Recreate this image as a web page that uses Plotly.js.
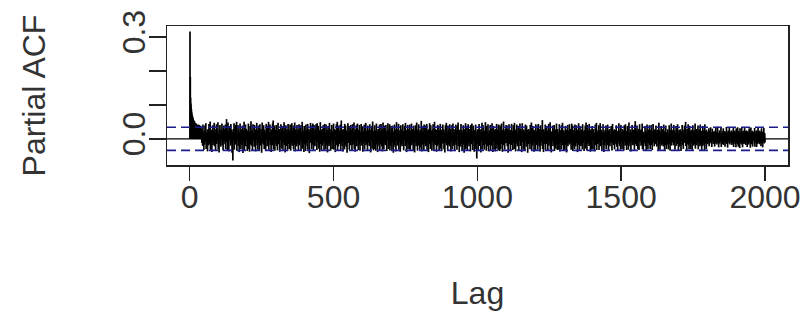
<!DOCTYPE html>
<html>
<head>
<meta charset="utf-8">
<script src="https://cdn.plot.ly/plotly-3.0.1.min.js"></script>
<style>html,body{margin:0;padding:0;background:#fff;}#chart{width:804px;height:328px;}</style>
</head>
<body>
<div id="chart"></div>
<script>
// Partial autocorrelation values for lags 1..2000
const pacfValues = [
.316,.182,.121,.104,.093,.087,.078,.071,.069,.064,.061,.058,.052,.055,.049,.047,.051,.044,.046,.041,
.043,.038,.045,.036,.040,.034,.039,.031,.042,.028,.037,.033,.025,.041,.029,.035,.022,.038,.027,.031,
.019,-.012,.027,.008,-.021,.042,-.006,.015,-.033,.022,.004,-.017,.039,-.009,.012,.046,-.030,.006,.017,-.013,
.025,-.037,.011,.029,-.004,-.019,.044,.002,-.014,.021,.051,-.032,.009,.016,-.008,.027,-.039,.013,.005,.040,
-.018,.024,.007,-.011,.047,-.022,.014,.028,-.005,-.035,.018,.003,.043,-.015,.022,-.007,.011,.049,-.031,.009,
.016,-.040,.026,.001,.041,-.013,.008,-.023,.029,.012,-.002,.045,-.019,.005,.024,-.034,.015,.039,-.010,.020,
.006,.028,-.016,.042,-.030,.011,.019,.058,-.009,.003,-.033,.025,.048,-.012,.014,-.037,.022,.008,.038,-.004,
.017,-.020,.044,.010,-.014,.027,-.041,.004,.021,-.064,.013,.029,-.008,.046,-.032,.009,.018,-.017,.041,.002,
-.011,.023,.050,-.035,.007,.015,-.006,.040,-.021,.026,.001,-.039,.019,.012,.045,-.015,.005,-.030,.028,.014,
.009,-.018,.039,.020,-.042,.003,.025,-.010,.050,-.033,.016,.007,-.013,.042,-.022,.011,.029,-.005,.018,-.036,
.024,.002,-.031,.045,.013,-.009,.021,-.038,.006,.038,-.016,.019,.052,-.020,.008,-.004,.026,-.034,.015,.043,
-.007,.017,.010,-.023,.041,-.014,.004,.028,-.037,.022,.012,-.003,.047,-.019,.026,.007,-.032,.016,.039,-.011,
.014,-.035,.022,.043,-.008,.005,-.020,.029,.011,-.041,.018,.048,-.013,.003,.024,-.017,.040,.009,-.030,.020,
.027,-.010,.006,-.036,.019,.044,-.002,.013,-.022,.038,.001,-.015,.025,.050,-.033,.010,.017,-.006,.042,-.018,
.008,.021,-.039,.015,.028,-.012,.004,.045,-.019,.054,-.031,.011,.023,-.007,.039,-.035,.016,.002,.026,-.014,
.041,-.021,.012,.006,-.034,.024,.047,-.009,.017,-.016,.029,.003,-.038,.020,.010,-.004,.043,-.029,.014,.027,
-.013,.018,.038,-.032,.007,.022,-.011,.049,-.018,.009,.025,-.040,.015,.040,-.005,.012,-.021,.028,.004,-.036,
.019,.044,-.015,.002,.027,-.030,.013,-.008,.042,.021,-.035,.006,.017,-.012,.046,-.020,.010,.024,-.003,.039,
-.031,.011,.023,-.017,.048,.005,-.037,.018,.028,-.010,.014,-.022,.041,.001,-.014,.026,.009,-.033,.021,.043,
.003,-.019,.029,.016,-.006,.040,-.034,.012,.020,-.013,.050,-.029,.007,.025,-.009,.015,-.039,.038,.011,-.016,
.022,.008,-.036,.042,-.011,.019,.027,-.020,.004,.044,-.032,.013,-.003,.029,.017,-.042,.010,.024,-.012,.047,
-.008,.026,.014,-.030,.039,.002,-.017,.045,.009,-.035,.021,.041,-.014,.006,-.022,.028,.016,-.005,.043,-.019,
.012,-.033,.046,.020,-.010,.007,.038,-.029,.015,-.002,.026,-.038,.018,.049,-.015,.004,.023,-.034,.010,.029,
-.020,.017,.005,.040,-.013,.025,-.036,.011,.044,-.007,.019,.003,-.031,.042,.013,-.018,.027,.008,-.040,.021,
.038,-.011,.024,-.021,.009,.047,-.016,.014,.001,-.035,.028,.018,-.006,.041,-.030,.012,.022,-.013,.005,.045,
-.032,.015,.029,-.004,.020,-.039,.010,.026,-.019,.043,.006,-.012,.050,-.033,.016,.002,-.022,.039,.013,-.009,
.024,-.015,.008,.042,-.034,.019,.054,-.010,.012,-.021,.027,.004,-.037,.017,.029,-.007,.021,-.031,.044,.011,
-.017,.039,.003,-.023,.025,.014,-.041,.022,.009,.046,-.012,.018,-.004,.038,-.032,.011,.024,.006,-.019,.041,
.016,-.009,.027,-.036,.013,.043,-.018,.005,.023,-.014,.048,-.030,.010,.019,-.038,.028,.001,-.011,.040,.020,
-.022,.012,.045,-.006,.018,-.033,.026,.008,-.016,.041,.015,-.035,.021,.004,-.010,.044,-.020,.014,.025,-.003,
.037,-.038,.011,.022,-.013,.006,.042,-.031,.017,.028,-.008,.047,-.019,.002,.024,-.015,.013,-.036,.039,.009,
-.012,.020,.027,-.021,.004,.043,-.017,.011,-.040,.026,.016,-.005,.038,-.029,.019,.051,-.014,.007,-.034,.023,
.013,-.030,.040,.006,-.011,.025,-.035,.018,.045,-.016,.003,.022,-.039,.014,.029,-.008,.020,-.020,.010,.042,
-.033,.009,.019,-.015,.044,.001,-.022,.028,.012,-.037,.024,.048,-.010,.016,-.031,.039,.005,-.013,.026,-.018,
.021,.041,-.019,.008,-.036,.023,.015,-.006,.046,-.030,.011,.027,-.014,.002,.043,-.034,.018,.009,-.021,.038,
-.009,.026,-.033,.017,.039,-.012,.004,-.041,.022,.014,-.018,.042,.007,-.023,.028,.019,-.037,.012,.049,-.005,
.018,-.020,.010,.029,-.014,.044,-.032,.013,.003,-.009,.025,-.038,.021,.040,-.016,.006,.027,-.022,.015,.002,
.043,-.013,.023,-.034,.009,.018,-.004,.038,-.021,.047,.012,-.017,.026,-.039,.014,.005,-.010,.041,-.030,.020,
-.016,.028,.006,-.031,.042,.011,-.036,.019,.024,-.007,.045,-.019,.001,.029,-.012,.022,-.033,.016,.039,-.003,
.010,-.040,.025,.015,-.010,.040,-.022,.007,.048,-.015,.018,-.035,.027,.004,-.020,.043,.013,-.008,.021,-.032,
.027,-.011,.017,-.023,.053,.008,-.037,.022,.012,-.017,.038,-.005,.019,-.034,.042,.002,-.014,.025,.009,-.022,
.039,-.018,.006,.044,-.032,.014,.023,-.009,.028,-.039,.011,.020,-.015,.046,-.004,.016,-.030,.040,.003,-.012,
.024,-.035,.013,.027,-.007,.043,-.020,.010,-.033,.021,.050,-.013,.005,.029,-.018,.015,.026,-.038,.018,.008,
-.021,.041,.002,-.016,.038,.019,-.034,.011,.025,-.008,.044,-.029,.013,-.003,.027,-.036,.020,.007,-.014,.042,
.015,-.010,.028,-.031,.017,.004,-.040,.024,.040,-.012,.009,.047,-.019,.022,-.006,.014,-.033,.039,.012,-.017,
.026,.008,-.022,.043,-.015,.020,.029,-.037,.006,.017,-.009,.041,-.030,.011,.045,-.013,.003,-.020,.028,.016,
-.036,.019,.012,-.011,.042,-.018,.025,.001,-.032,.039,.014,-.004,.048,-.021,.009,.023,-.039,.017,.027,-.008,
.013,-.023,.044,.007,-.014,.026,-.035,.018,.010,-.005,.040,-.017,.021,-.041,.028,.004,.015,-.012,.046,-.031,
.020,.011,-.019,.038,-.034,.016,.002,.043,-.013,.024,-.022,.008,.029,-.010,.018,-.037,.041,.006,-.016,.022,
.045,-.014,.009,-.033,.023,.039,-.008,.015,-.038,.019,.026,-.018,.005,.042,-.030,.012,-.011,-.058,.021,.028,
-.015,.027,-.036,.014,.006,.044,-.021,.018,.029,-.011,.003,-.040,.025,.016,-.006,.047,-.031,.010,.022,-.019,
.040,-.009,.019,-.032,.011,.024,-.016,.049,-.004,.013,-.035,.038,.007,-.013,.021,-.022,.043,.015,-.037,.002,
-.018,.025,.012,-.010,.041,-.033,.005,.028,-.020,.017,.046,-.014,.009,-.039,.023,.038,-.007,.016,-.030,.026,
.011,-.037,.029,.019,-.012,.004,.044,-.029,.013,-.017,.027,.002,-.034,.042,.010,-.005,.022,-.036,.039,.014,
-.030,.020,.006,.045,-.015,.026,-.038,.012,.018,-.009,.051,-.019,.024,.001,-.032,.015,.029,-.013,.008,.041,
.017,-.012,.039,-.022,.003,.028,-.041,.021,.009,.043,-.016,.014,-.004,.026,-.035,.019,.011,-.018,.044,-.007,
.023,.005,-.033,.014,.040,-.011,.020,-.030,.047,.008,-.019,.027,-.037,.016,.003,-.014,.042,.021,-.022,.010,
-.013,.038,.018,-.035,.012,.025,-.006,.045,-.021,.004,.029,-.015,.011,-.039,.024,.046,-.010,.006,.019,-.032,
.028,-.017,.010,.022,-.036,.015,.042,-.008,.002,-.023,.039,.013,-.012,.026,-.041,.018,.007,.029,-.016,.021,
-.005,.024,-.031,.041,.009,-.014,.020,.048,-.034,.011,.017,-.020,.038,.001,-.011,.027,-.038,.014,.025,-.009,
.016,-.034,.043,.006,-.018,.023,-.007,.012,.039,-.032,.019,.044,-.013,.008,-.022,.029,.003,-.037,.018,.040,
-.020,.013,.026,-.010,.004,.055,-.030,.017,.009,-.039,.028,-.005,.021,.014,-.016,.042,-.033,.011,.024,-.012,
.038,-.015,.008,.025,-.035,.019,-.002,.044,-.020,.012,.027,-.011,.049,-.031,.006,.018,-.040,.022,.015,-.006,
.009,.039,-.021,.014,.024,-.013,.041,-.036,.005,.020,-.008,.028,-.029,.016,.045,-.017,.010,-.033,.029,.003,
-.032,.018,.011,-.016,.043,.022,-.037,.007,.026,-.012,.015,-.031,.040,.002,-.019,.047,.013,-.009,.021,-.035,
.025,-.007,.017,-.034,.010,.038,-.018,.023,.004,-.040,.027,.012,-.014,.041,-.022,.008,.024,-.011,.016,.043,
-.017,.012,.029,-.009,.021,-.032,.006,.045,-.015,.019,.039,-.036,.014,.003,-.020,.026,.010,-.030,.042,.007,
.020,-.022,.003,.040,-.013,.016,.027,-.039,.011,.024,-.006,.046,-.018,.009,-.034,.021,.038,-.014,.005,-.021,
.014,.028,-.019,.008,-.031,.043,.001,-.012,.022,.017,-.036,.026,.013,-.004,.039,-.029,.015,.048,-.016,.010,
-.035,.019,.041,-.014,.012,-.008,.025,-.021,.044,.005,-.017,.014,-.038,.023,.028,-.010,.007,-.032,.038,.018,
.011,-.030,.021,.029,-.006,.017,-.037,.013,.004,.042,-.019,.024,-.011,.047,-.033,.009,.020,-.015,.003,.026,
-.013,.040,-.033,.016,.023,-.009,.046,-.022,.010,-.016,.027,.006,-.035,.020,.013,-.004,.043,-.018,.022,-.039,
.018,.006,-.020,.027,-.011,.014,.039,-.030,.009,.022,-.015,.003,.042,-.019,.012,-.033,.025,.016,-.008,.029,
-.022,.015,.010,-.013,.038,-.005,.021,-.034,.017,.044,-.012,.007,.024,-.018,.002,.028,-.031,.013,.019,-.009,
.026,-.016,.040,.004,-.023,.019,.011,-.036,.024,-.007,.015,.046,-.014,.008,-.021,.027,.012,-.032,.041,.001,
-.011,.021,-.030,.029,.013,-.017,.006,.025,-.035,.018,.040,-.010,.014,-.020,.043,.003,-.015,.023,-.033,.016,
.009,.038,-.018,.012,-.032,.022,.048,-.013,.005,.017,-.022,.028,.011,-.037,.020,.007,-.009,.041,-.017,.024,
-.019,.014,.027,-.008,.021,-.034,.010,.041,.052,-.015,.004,.024,-.021,.016,.039,-.012,.019,-.031,.008,.029,
.022,-.033,.013,.043,-.010,.018,-.003,.026,-.020,.011,.029,-.016,.045,-.030,.007,.015,-.035,.021,.012,-.006,
.016,-.013,.038,-.021,.008,.024,-.036,.019,.003,.042,-.009,.013,-.031,.027,.017,-.014,.006,.040,-.019,.022,
-.030,.011,.026,-.007,.041,-.018,.015,-.033,.020,.009,.044,-.012,.023,-.003,-.022,.028,.014,-.016,.025,.005,
.039,-.011,.017,-.023,.012,.027,-.006,.021,-.036,.014,.047,-.017,.008,.025,-.032,.019,.002,-.013,.038,-.020,
.013,.024,-.015,.006,.029,-.022,.018,.042,-.009,.011,-.033,.022,.015,-.018,.039,.004,-.030,.020,.010,-.012,
-.017,.028,.009,-.031,.016,.003,.040,-.014,.023,-.035,.012,.026,-.008,.045,-.020,.014,.021,-.011,.005,.027,
.020,-.019,.041,.010,-.012,.025,-.032,.007,.018,-.004,.038,-.021,.013,.024,-.015,.043,-.010,.016,-.034,.011,
.026,.002,-.023,.019,.028,-.016,.012,-.036,.022,.015,-.007,.041,-.019,.009,.027,-.030,.017,.004,-.012,.039,
-.010,.018,.024,.050,-.021,.013,.006,-.033,.029,.011,-.015,.022,.043,-.018,.008,-.031,.020,.038,-.009,.014,
.023,-.030,.011,.027,-.012,.019,-.035,.016,.040,-.006,.021,-.020,.009,.026,-.016,.013,.045,-.029,.017,.004,
-.014,.029,-.019,.012,.022,-.009,.039,-.031,.007,.018,-.013,.028,.003,-.022,.042,.015,-.017,.024,.010,-.033,
.019,.008,-.021,.038,-.011,.016,.025,-.018,.013,-.034,.043,.006,-.014,.023,.011,-.030,.027,-.007,.020,.012,
-.016,.021,.012,-.009,.031,-.022,.007,.023,-.013,.017,.034,-.011,.004,.019,-.024,.014,.030,-.006,.010,-.015,
.022,-.012,.016,.008,-.023,.024,.003,-.014,.032,.011,-.008,.020,-.017,.013,.036,-.010,.006,.018,-.025,.015,
.009,.025,-.014,.018,-.007,.012,.033,-.024,.014,.005,-.016,.022,.010,-.012,.031,-.018,.016,.002,.023,-.009,
-.023,.013,.021,-.011,.017,.035,-.015,.008,.019,-.026,.011,.024,-.006,.015,-.013,.032,.004,-.017,.020,.012,
.016,-.010,.025,.006,-.018,.014,.022,-.013,.009,.033,-.024,.017,.003,-.008,.024,-.015,.019,.011,-.025,.031,
-.012,.020,.007,-.016,.034,.010,-.023,.023,.013,-.007,.018,-.027,.031,.005,-.014,.021,.015,-.010,.032,-.017,
.014,-.025,.019,.024,-.009,.016,-.015,.011,.035,-.012,.022,.006,-.018,.017,.025,-.011,.008,-.024,.013,.023,
-.008,.018,-.017,.012,.031,-.013,.021,.004,-.026,.015,.033,-.010,.019,-.016,.009,.024,-.023,.014,.020,-.006,
.021,.010,-.014,.032,-.023,.008,.017,-.011,.023,.013,-.024,.025,.002,-.015,.018,.034,-.012,.016,-.009,.011,
-.016,.024,.012,-.010,.020,-.022,.015,.031,-.013,.007,.021,-.025,.014,.019,-.008,.032,-.014,.010,.017,-.011
];
const ciLevel = 0.034;            // 95% confidence bound (dashed lines)
const xTickVals = [0, 500, 1000, 1500, 2000];
const xTickText = ['0', '500', '1000', '1500', '2000'];
const yTickVals = [0, 0.1, 0.2, 0.3];
const yTickText = ['0.0', '', '', '0.3'];

// build vertical "h" type spikes from the data
const xs = [], ys = [];
pacfValues.forEach((v, i) => {
  const lag = i + 1;
  xs.push(lag, lag, null);
  ys.push(0, v, null);
});

const FONT = 'Liberation Sans, Arial, Helvetica, sans-serif';
const TXT = '#333333';

const trace = {
  type: 'scatter', mode: 'lines', x: xs, y: ys,
  line: {color: '#000000', width: 1.7}, hoverinfo: 'skip', showlegend: false
};

const layout = {
  width: 804, height: 328,
  margin: {l: 167, r: 16, t: 26, b: 163},
  paper_bgcolor: '#ffffff', plot_bgcolor: '#ffffff',
  showlegend: false,
  font: {family: FONT, color: TXT, size: 32},
  xaxis: {
    range: [-79, 2080], tickmode: 'array', tickvals: xTickVals, ticktext: xTickText,
    ticks: 'outside', ticklen: 14, tickwidth: 1.5, tickcolor: '#222',
    showline: true, mirror: true, linecolor: '#222', linewidth: 1.5,
    showgrid: false, zeroline: false, ticklabelstandoff: -11,
    tickfont: {family: FONT, size: 32, color: TXT},
    title: {text: 'Lag', font: {family: FONT, size: 32, color: TXT}, standoff: 67}
  },
  yaxis: {
    range: [-0.077, 0.332], tickmode: 'array', tickvals: yTickVals, ticktext: yTickText,
    ticks: 'outside', ticklen: 17, tickwidth: 1.5, tickcolor: '#222',
    showline: true, mirror: true, linecolor: '#222', linewidth: 1.5,
    showgrid: false, zeroline: false, tickangle: -90, ticklabelstandoff: -9,
    tickfont: {family: FONT, size: 32, color: TXT},
    title: {text: 'Partial ACF', font: {family: FONT, size: 32, color: TXT}, standoff: 60}
  },
  shapes: [
    {type: 'line', xref: 'paper', x0: 0, x1: 1, yref: 'y', y0: 0, y1: 0,
     line: {color: '#000', width: 1.2}},
    {type: 'line', xref: 'paper', x0: 0, x1: 1, yref: 'y', y0: ciLevel, y1: ciLevel,
     line: {color: '#1c1c8c', width: 1.6, dash: '9px,5px'}},
    {type: 'line', xref: 'paper', x0: 0, x1: 1, yref: 'y', y0: -ciLevel, y1: -ciLevel,
     line: {color: '#1c1c8c', width: 1.6, dash: '9px,5px'}}
  ]
};

Plotly.newPlot('chart', [trace], layout, {staticPlot: true, displayModeBar: false});
</script>
</body>
</html>
